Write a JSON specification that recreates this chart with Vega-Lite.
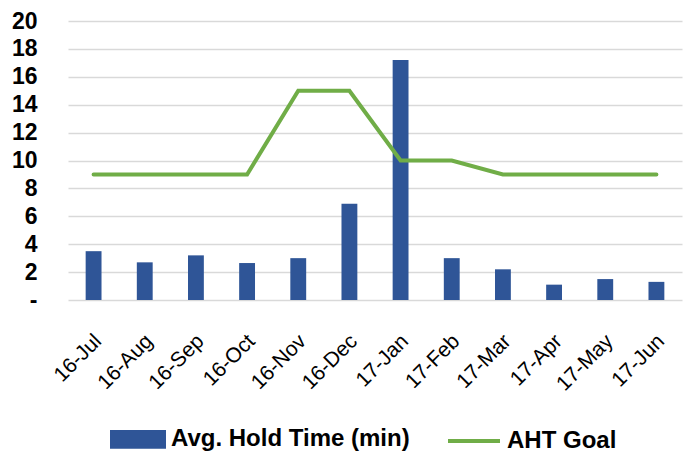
{
  "$schema": "https://vega.github.io/schema/vega-lite/v6.json",
  "width": 614,
  "height": 279,
  "autosize": {"type": "none"},
  "padding": {"left": 68, "top": 21, "right": 5, "bottom": 152},
  "config": {
    "view": {"stroke": null},
    "font": "Liberation Sans",
    "axisY": {"tickCount": 10, "labelOverlap": false, "gridColor": "#D9D9D9", "gridWidth": 1.5}
  },
  "data": {
    "values": [
      {"month": "16-Jul", "hold": 3.5, "goal": 9},
      {"month": "16-Aug", "hold": 2.7, "goal": 9},
      {"month": "16-Sep", "hold": 3.2, "goal": 9},
      {"month": "16-Oct", "hold": 2.65, "goal": 9},
      {"month": "16-Nov", "hold": 3.0, "goal": 15},
      {"month": "16-Dec", "hold": 6.9, "goal": 15},
      {"month": "17-Jan", "hold": 17.2, "goal": 10},
      {"month": "17-Feb", "hold": 3.0, "goal": 10},
      {"month": "17-Mar", "hold": 2.2, "goal": 9},
      {"month": "17-Apr", "hold": 1.1, "goal": 9},
      {"month": "17-May", "hold": 1.5, "goal": 9},
      {"month": "17-Jun", "hold": 1.3, "goal": 9}
    ]
  },
  "encoding": {
    "x": {
      "field": "month",
      "type": "nominal",
      "sort": null,
      "scale": {"paddingInner": 0.69, "paddingOuter": 0.345},
      "axis": {
        "title": null,
        "labelAngle": -45,
        "labelFontSize": 21,
        "labelColor": "#000000",
        "ticks": false,
        "domain": false,
        "labelPadding": 30,
        "labelOffset": -3,
        "labelOverlap": false
      }
    }
  },
  "layer": [
    {
      "mark": {"type": "bar"},
      "encoding": {
        "y": {
          "field": "hold",
          "type": "quantitative",
          "scale": {"domain": [0, 20], "nice": false},
          "axis": {
            "title": null,
            "tickCount": 10,
            "labelExpr": "datum.value === 0 ? '-' : datum.label",
            "labelOverlap": false,
            "domain": false,
            "ticks": false,
            "labelFontSize": 23,
            "labelFontWeight": "bold",
            "labelColor": "#000000",
            "labelPadding": 31
          }
        },
        "color": {
          "datum": "Avg. Hold Time (min)",
          "type": "nominal",
          "scale": {"domain": ["Avg. Hold Time (min)", "AHT Goal"], "range": ["#2F5597", "#70AD47"]},
          "legend": {
            "title": null,
            "orient": "none",
            "direction": "horizontal",
            "legendX": 42,
            "legendY": 390,
            "labelFontSize": 24,
            "labelFontWeight": "bold",
            "labelColor": "#000000",
            "labelLimit": 400,
            "labelOffset": 5,
            "columnPadding": 30,
            "symbolSize": 2704,
            "symbolType": "M-1,-0.28H1V0.28H-1Z",
            "encode": {
              "symbols": {
                "update": {
                  "shape": {"signal": "datum.label === 'AHT Goal' ? 'M-1,0H1' : 'M-1,-0.28H1V0.28H-1Z'"},
                  "fill": {"signal": "datum.label === 'AHT Goal' ? 'transparent' : '#2F5597'"},
                  "stroke": {"signal": "datum.label === 'AHT Goal' ? '#70AD47' : 'transparent'"},
                  "strokeWidth": {"value": 4},
                  "opacity": {"value": 1}
                }
              }
            }
          }
        }
      }
    },
    {
      "mark": {"type": "line", "strokeWidth": 4, "strokeCap": "round", "strokeJoin": "miter"},
      "encoding": {
        "y": {"field": "goal", "type": "quantitative"},
        "color": {"datum": "AHT Goal", "type": "nominal"}
      }
    }
  ]
}
